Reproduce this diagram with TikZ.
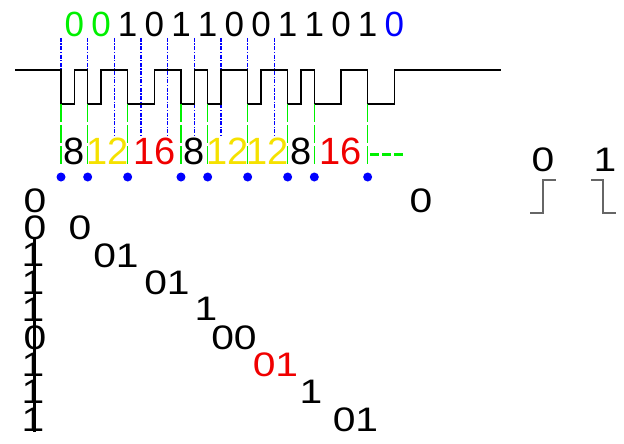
\documentclass[tikz,border=0pt]{standalone}
\usepackage{fontspec}
\setmainfont{Liberation Sans}
\newfontfamily\widefont[FakeStretch=1.2]{Liberation Sans}
\usetikzlibrary{positioning}
\definecolor{bitgreen}{RGB}{0,240,0}
\definecolor{bitblue}{RGB}{0,0,255}
\definecolor{cntyellow}{RGB}{245,225,0}
\definecolor{cntred}{RGB}{240,0,0}

\tikzset{
  bit/.style={inner sep=0pt, font=\fontsize{35}{35}\selectfont},
  cnt/.style={inner sep=0pt, font=\fontsize{38}{38}\selectfont},
  dec/.style={inner sep=0pt, font=\fontsize{34}{34}\widefont},
  guide/.style={bitblue, line width=1.3pt, dash pattern=on 4pt off 1.5pt on 1.3pt off 1.5pt},
  pause/.style={bitgreen, line width=1.3pt, dash pattern=on 18pt off 3pt},
  edge/.style={black!60, line width=1.2pt}
}

\begin{document}
\begin{tikzpicture}[x=1pt,y=-1pt]
    \useasboundingbox (0,0) rectangle (624,444);

    % Bits
    \foreach \b/\c [count=\i from 0] in {0/bitgreen,0/bitgreen,1/black,0/black,1/black,1/black,0/black,0/black,1/black,1/black,0/black,1/black,0/bitblue}
        \node[bit, text=\c] (bit\i) at (74.33+26.667*\i,24) {\b};

    % Bit cells
    \foreach \k in {2,...,6,8,...,13}
        \draw[guide] (61+26.667*\k,38) -- (61+26.667*\k,137);
    \foreach \k in {0,1,7}
        \draw[guide] (61+26.667*\k,38) -- (61+26.667*\k,104);

    % Signal
    \draw[line width=1.5pt] (15,70) -| (61,104) -| (74.33,70) -| (87.67,104) -| (101,70)
        -| (127.67,104) -| (154.33,70) -| (181,104) -| (194.33,70) -| (207.67,104)
        -| (221,70) -| (247.67,104) -| (261,70) -| (287.67,104) -| (301,70)
        -| (314.33,104) -| (341,70) -| (367.67,104) -| (394.33,70) -- (501,70);

    % Pauses
    \foreach \h [count=\i] in {0,2,5,9,11,14,17,19,23} {
        \coordinate (p\i) at (61+13.333*\h,104);
        \draw[pause] (p\i) -- ++(0,62);
        \fill[bitblue] (61+13.333*\h,177) circle (4.5);
    }

    % Counts
    \node[cnt] (c1) at (74.3,151) {8};
    \node[cnt, text=cntyellow] (c2) at (107.7,151) {12};
    \node[cnt, text=cntred] (c3) at (154.3,151) {16};
    \node[cnt] (c4) at (194.3,151) {8};
    \node[cnt, text=cntyellow] (c5) at (227.7,151) {12};
    \node[cnt, text=cntyellow] (c6) at (267.7,151) {12};
    \node[cnt] (c7) at (301,151) {8};
    \node[cnt, text=cntred] (c8) at (341,151) {16};
    \draw[bitgreen, line width=3pt, dash pattern=on 9pt off 3pt] (370,154.5) -- (406,154.5);

    % Decoded
    \draw[line width=2.5pt] (34.5,238) -- (34.5,432);
    \foreach \d/\x [count=\r from 0] in {0/35,0/35,1/33,1/33,1/33,0/35,1/33,1/33,1/33}
        \node[dec] (col\r) at (\x,200.5+27.4*\r) {\d};
    \node[dec] (d0) at (421,200.5) {0};
    \node[dec] (d1) at (80,228) {0};
    \node[dec] (d2) at (116,255.5) {01};
    \node[dec] (d3) at (167,283) {01};
    \node[dec] (d4) at (206,309) {1};
    \node[dec] (d5) at (234,338) {00};
    \node[dec, text=cntred] (d6) at (275.5,365) {01};
    \node[dec] (d7) at (311,392) {1};
    \node[dec] (d8) at (355.5,419.5) {01};

    % Legend
    \node[dec] (l0) at (543,160) {0};
    \node[dec] (l1) at (605,160) {1};
    \draw[edge] (530,213) -- (543,213) -- (543,180) -- (556,180);
    \draw[edge] (591,180) -- (603,180) -- (603,213) -- (616,213);
\end{tikzpicture}
\end{document}
